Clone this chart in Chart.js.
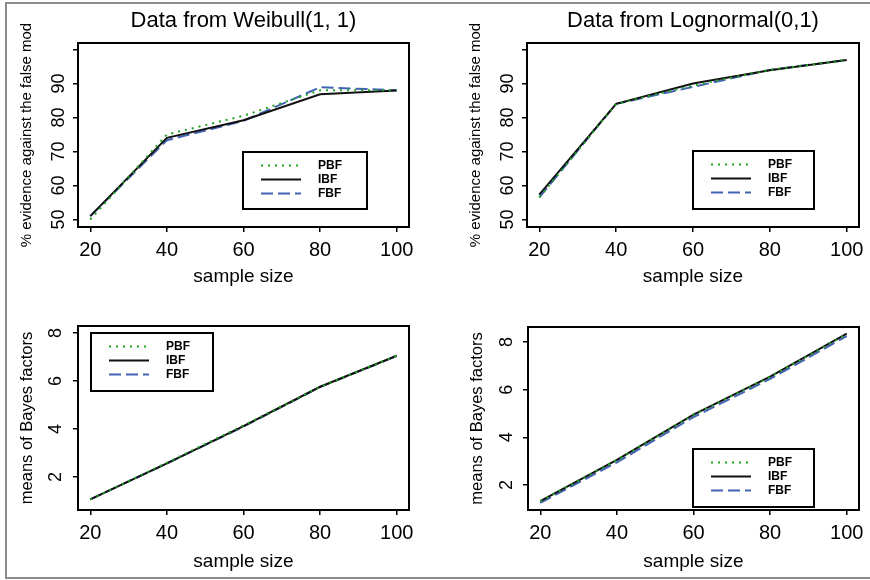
<!DOCTYPE html>
<html>
<head>
<meta charset="utf-8">
<script src="https://cdn.jsdelivr.net/npm/chart.js@4"></script>
<style>
  body { margin: 0; background: #fff; }
  #page { position: relative; width: 870px; height: 580px; overflow: hidden; background: #fff; }
  canvas { position: absolute; }
  #frame { position: absolute; left: 5px; top: 2px; width: 900px; height: 577px; border: 2px solid #8c8c8c; box-sizing: border-box; }
</style>
</head>
<body>
<div id="page">
  <canvas id="weibullEvidence" width="435" height="290" style="left:0;top:0"></canvas>
  <canvas id="lognormEvidence" width="435" height="290" style="left:435px;top:0"></canvas>
  <canvas id="weibullMeans" width="435" height="290" style="left:0;top:290px"></canvas>
  <canvas id="lognormMeans" width="435" height="290" style="left:435px;top:290px"></canvas>
  <div id="frame"></div>
</div>
<script>
const FONT = "'Liberation Sans', Arial, sans-serif";

// x axis
const sampleSizes = [20, 40, 60, 80, 100];

// tick values / labels
const pctTicks = [50, 60, 70, 80, 90, 100];
const pctLabels = ["50", "60", "70", "80", "90", ""];
const meanTicks = [2, 4, 6, 8];
const meanLabels = ["2", "4", "6", "8"];

// % evidence against the false model
const weibullPBF = [50, 75, 80.5, 88, 88];
const weibullIBF = [51, 74, 79.2, 86.8, 87.9];
const weibullFBF = [51, 73.3, 79, 88.9, 88];
const lognormPBF = [56.5, 84, 89.4, 94, 96.9];
const lognormIBF = [57.3, 84, 90, 93.9, 96.9];
const lognormFBF = [56.5, 84, 89, 94, 96.9];

// means of Bayes factors
const weibullMeanPBF = [1.07, 2.6, 4.15, 5.76, 7.05];
const weibullMeanIBF = [1.07, 2.57, 4.12, 5.76, 7.05];
const weibullMeanFBF = [1.07, 2.57, 4.1, 5.75, 7.04];
const lognormMeanPBF = [1.32, 3.05, 4.95, 6.54, 8.33];
const lognormMeanIBF = [1.32, 3.05, 4.95, 6.55, 8.35];
const lognormMeanFBF = [1.25, 2.95, 4.85, 6.45, 8.25];

const pts = vals => sampleSizes.map((s, i) => ({ x: s, y: vals[i] }));

// box round the plot region
const boxPlugin = {
  id: "plotBox",
  afterDatasetsDraw(chart) {
    const { ctx, chartArea: a } = chart;
    ctx.save();
    ctx.strokeStyle = "#000";
    ctx.lineWidth = 2;
    ctx.strokeRect(a.left, a.top, a.right - a.left, a.bottom - a.top);
    ctx.restore();
  }
};

// R-style boxed legend inside the plot
const legendPlugin = {
  id: "boxLegend",
  afterDraw(chart, args, opts) {
    if (!opts || opts.w === undefined) return;
    const { ctx, chartArea: a } = chart;
    const x = a.left + opts.x, y = a.top + opts.y;
    ctx.save();
    ctx.fillStyle = "#fff";
    ctx.fillRect(x, y, opts.w, opts.h);
    ctx.strokeStyle = "#000";
    ctx.lineWidth = 2;
    ctx.strokeRect(x, y, opts.w, opts.h);
    chart.data.datasets.forEach((ds, i) => {
      const ry = y + 13.5 + i * 14;
      ctx.beginPath();
      ctx.setLineDash(ds.borderDash || []);
      ctx.strokeStyle = ds.borderColor;
      ctx.lineWidth = ds.borderWidth;
      ctx.moveTo(x + 18, ry);
      ctx.lineTo(x + 58, ry);
      ctx.stroke();
      ctx.setLineDash([]);
      ctx.fillStyle = "#000";
      ctx.font = "bold 12px " + FONT;
      ctx.textBaseline = "middle";
      ctx.fillText(ds.label, x + 75, ry);
    });
    ctx.restore();
  }
};

function panel(id, o) {
  new Chart(document.getElementById(id), {
    type: "line",
    data: {
      datasets: [
        { label: "PBF", data: pts(o.pbf), borderColor: "#1ea51e", borderDash: [2, 5], borderWidth: 2 },
        { label: "IBF", data: pts(o.ibf), borderColor: "#111111", borderWidth: 2 },
        { label: "FBF", data: pts(o.fbf), borderColor: "#4264b4", borderDash: [12, 5], borderWidth: 2 }
      ]
    },
    options: {
      responsive: false,
      animation: false,
      events: [],
      layout: { padding: o.pad },
      elements: { point: { radius: 0 }, line: { tension: 0, fill: false } },
      plugins: {
        legend: { display: false },
        tooltip: { enabled: false },
        title: o.title
          ? { display: true, text: o.title, fullSize: false, color: "#000",
              font: { family: FONT, size: 22, weight: "normal" }, padding: { top: 8, bottom: 8.6 } }
          : { display: false },
        boxLegend: o.legend
      },
      scales: {
        x: {
          type: "linear",
          min: 16.8,
          max: 103.2,
          afterBuildTicks: s => { s.ticks = sampleSizes.map(v => ({ value: v })); },
          afterFit: s => { s.height = o.xh; },
          border: { display: false },
          grid: { drawOnChartArea: false, drawTicks: true, tickLength: 5, color: "#000", lineWidth: 1.5 },
          ticks: { color: "#000", font: { family: FONT, size: 20 }, padding: 6, minRotation: 0, maxRotation: 0 },
          title: { display: true, text: "sample size", color: "#000",
                   font: { family: FONT, size: 19 }, padding: { top: 0, bottom: o.xtb } }
        },
        y: {
          type: "linear",
          min: o.ymin,
          max: o.ymax,
          afterBuildTicks: s => { s.ticks = o.yTicks.map(v => ({ value: v })); },
          afterFit: s => { s.width = 78; },
          border: { display: false },
          grid: { drawOnChartArea: false, drawTicks: true, tickLength: 5, color: "#000", lineWidth: 1.5 },
          ticks: { color: "#000", font: { family: FONT, size: 18 }, minRotation: 90, maxRotation: 90,
                   crossAlign: "center", padding: o.yPad, callback: (v, i) => o.yLabels[i] },
          title: { display: true, text: o.yTitle, color: "#000",
                   font: { family: FONT, size: o.yTitleSize }, padding: { top: 18, bottom: 0 } }
        }
      }
    },
    plugins: [boxPlugin, legendPlugin]
  });
}

panel("weibullEvidence", {
  title: "Data from Weibull(1, 1)",
  pbf: weibullPBF, ibf: weibullIBF, fbf: weibullFBF,
  ymin: 47.8, ymax: 101.9, yTicks: pctTicks, yLabels: pctLabels, yPad: 4,
  yTitle: "% evidence against the false mod", yTitleSize: 15,
  pad: { left: 0, right: 26, top: 0, bottom: 0 }, xh: 63, xtb: 2,
  legend: { x: 165, y: 109, w: 124, h: 57 }
});

panel("lognormEvidence", {
  title: "Data from Lognormal(0,1)",
  pbf: lognormPBF, ibf: lognormIBF, fbf: lognormFBF,
  ymin: 47.8, ymax: 101.9, yTicks: pctTicks, yLabels: pctLabels, yPad: 4,
  yTitle: "% evidence against the false mod", yTitleSize: 15,
  pad: { left: 14, right: 11, top: 0, bottom: 0 }, xh: 63, xtb: 2,
  legend: { x: 166, y: 108, w: 121, h: 58 }
});

panel("weibullMeans", {
  pbf: weibullMeanPBF, ibf: weibullMeanIBF, fbf: weibullMeanFBF,
  ymin: 0.63, ymax: 8.29, yTicks: meanTicks, yLabels: meanLabels, yPad: 12,
  yTitle: "means of Bayes factors", yTitleSize: 16.5,
  pad: { left: 0, right: 26, top: 36, bottom: 4 }, xh: 66, xtb: 3,
  legend: { x: 13, y: 7, w: 122, h: 58 }
});

panel("lognormMeans", {
  pbf: lognormMeanPBF, ibf: lognormMeanIBF, fbf: lognormMeanFBF,
  ymin: 0.95, ymax: 8.63, yTicks: meanTicks, yLabels: meanLabels, yPad: 11,
  yTitle: "means of Bayes factors", yTitleSize: 16.5,
  pad: { left: 15, right: 11, top: 37, bottom: 4 }, xh: 66, xtb: 3,
  legend: { x: 165, y: 122, w: 121, h: 58 }
});
</script>
</body>
</html>
